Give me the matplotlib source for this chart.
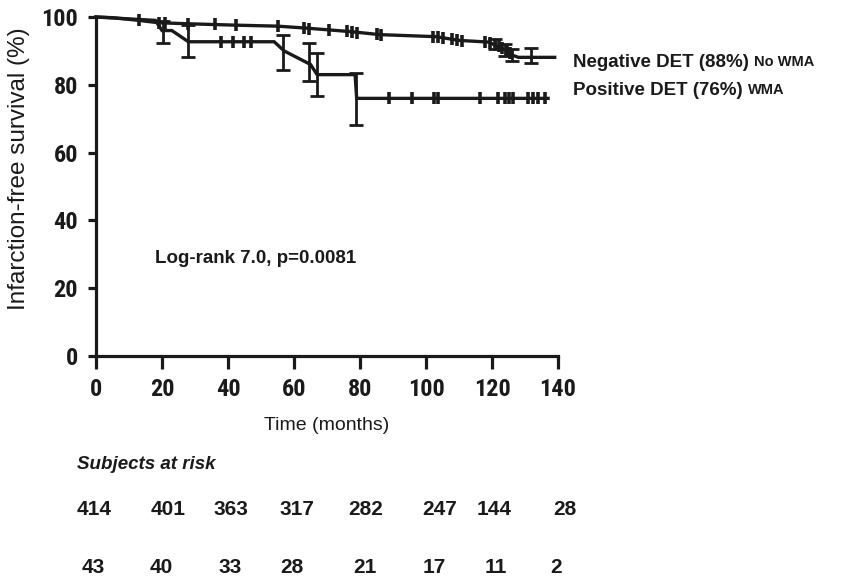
import matplotlib
matplotlib.use('Agg')
import matplotlib.pyplot as plt
import logging
logging.getLogger('matplotlib.font_manager').setLevel(logging.ERROR)

# Negative DET (no WMA) curve
neg_t = [0, 5, 13, 19, 28, 42, 55, 64, 77, 86, 103, 110, 119, 124, 126, 128, 139]
neg_s = [100, 99.8, 99, 98.3, 98, 97.6, 97.3, 96.7, 95.7, 94.8, 94.2, 93.1, 92.6, 90.3, 88.8, 88.1, 88.1]
neg_cens_t = [13, 19, 21, 28, 36, 42.5, 55, 63, 64.5, 70.5, 76, 77.5, 79, 85, 86.5,
              102, 103.5, 105, 108, 109.5, 111, 118, 119.5, 121, 122, 123, 124.5, 125.5]
neg_cens_s = [99, 98.3, 98.2, 98, 97.8, 97.6, 97.3, 96.8, 96.6, 96.2, 95.8, 95.6, 95.4, 94.9, 94.8,
              94.2, 94.1, 93.8, 93.4, 93.2, 93.0, 92.7, 92.3, 91.8, 91.4, 90.9, 90.1, 89.3]
neg_eb_t = [121, 124, 126, 131.8]
neg_eb_lo = [90.5, 88.5, 87, 86.4]
neg_eb_hi = [93.5, 92, 90.5, 90.9]

# Positive DET (WMA) curve
pos_t = [0, 18, 20, 23, 28, 54, 57, 65, 67, 78.5, 79, 137]
pos_s = [100, 99, 96, 96, 92.7, 92.7, 90, 86, 83, 83, 76, 76]
pos_cens_t = [38, 41.4, 44.7, 47.1, 88.7, 95.7, 102.3, 103.5, 116.4, 121.9, 123.9, 125, 126.4,
              131, 132.5, 134, 136]
pos_cens_s = [92.7, 92.7, 92.7, 92.7, 76, 76, 76, 76, 76, 76, 76, 76, 76, 76, 76, 76, 76]
pos_eb_t = [20.2, 27.8, 56.7, 64.6, 67, 78.7]
pos_eb_lo = [92.3, 88.3, 84.4, 81, 76.7, 68]
pos_eb_hi = [98.7, 97.6, 94.6, 92.2, 89.4, 83.4]

xticks = [0, 20, 40, 60, 80, 100, 120, 140]
yticks = [0, 20, 40, 60, 80, 100]

risk_neg = ['414', '401', '363', '317', '282', '247', '144', '28']
risk_pos = ['43', '40', '33', '28', '21', '17', '11', '2']

W, H = 846, 576
fig = plt.figure(figsize=(W / 100, H / 100), dpi=100)
ax = fig.add_axes([96 / W, 1 - 356 / H, 462 / W, 339 / H])

def fx(px):
    return px / W

def fy(py):
    return 1 - py / H

sans = ['Liberation Sans', 'DejaVu Sans']
narrow = ['Liberation Sans Narrow', 'Arial Narrow', 'Roboto Condensed', 'Archivo Narrow',
          'PT Sans Narrow', 'DejaVu Sans']
c = '#1a1a1a'

for t, s, ct, cs, et, lo, hi in [
        (neg_t, neg_s, neg_cens_t, neg_cens_s, neg_eb_t, neg_eb_lo, neg_eb_hi),
        (pos_t, pos_s, pos_cens_t, pos_cens_s, pos_eb_t, pos_eb_lo, pos_eb_hi)]:
    ax.plot(t, s, color=c, lw=2.4, clip_on=False, solid_joinstyle='miter')
    ax.plot(ct, cs, ls='none', marker='|', ms=8, mew=2.6, color=c, clip_on=False)
    mid = [(a + b) / 2 for a, b in zip(lo, hi)]
    half = [(b - a) / 2 for a, b in zip(lo, hi)]
    ax.errorbar(et, mid, yerr=half, fmt='none', ecolor=c, elinewidth=2.0,
                capsize=5, capthick=2.0, clip_on=False)

ax.set_xlim(0, 140)
ax.set_ylim(0, 100)
ax.set_xticks(xticks)
ax.set_yticks(yticks)
for sp in ['top', 'right']:
    ax.spines[sp].set_visible(False)
for sp in ['left', 'bottom']:
    ax.spines[sp].set_linewidth(2.3)
    ax.spines[sp].set_color(c)
ax.tick_params(axis='x', length=9.5, width=2.3, pad=6, colors=c)
ax.tick_params(axis='y', length=6, width=2.3, pad=7, colors=c)
for lab in ax.get_xticklabels() + ax.get_yticklabels():
    lab.set_family(narrow)
    lab.set_fontsize(17.5)
    lab.set_fontweight('bold')

ax.set_xlabel('Time (months)', family=sans, fontsize=14, color=c, labelpad=12)
ax.set_ylabel('Infarction-free survival (%)', family=sans, fontsize=17.5, color=c)
ax.yaxis.set_label_coords(-0.143, 0.552)

# curve labels
for y, main, small in [(67, 'Negative DET (88%)', 'No WMA'), (95, 'Positive DET (76%)', 'WMA')]:
    t1 = fig.text(fx(573), fy(y), main, family=sans, fontsize=13.5, fontweight='bold',
                  color=c, va='baseline')
    ax.annotate(small, xy=(1, 0), xycoords=t1, xytext=(4, 1.5), textcoords='offset points',
                family=sans, fontsize=10.5, fontweight='bold', color=c, va='bottom')

fig.text(fx(155), fy(263), 'Log-rank 7.0, p=0.0081', family=sans, fontsize=13.5,
         fontweight='bold', color=c, va='baseline')

fig.text(fx(77), fy(469), 'Subjects at risk', family=sans, fontsize=13.5,
         fontweight='bold', style='italic', color=c, va='baseline')

row1_x = [77, 151, 213, 280, 348, 422, 477, 553]
row2_x = [82, 150, 218, 280, 353, 423, 485, 550]
for xs, vals, base in [(row1_x, risk_neg, 515), (row2_x, risk_pos, 573)]:
    for x, v in zip(xs, vals):
        fig.text(fx(x), fy(base), v, family=sans, fontsize=15, fontweight='bold',
                 color=c, va='baseline')

fig.savefig('out.png', dpi=100)
